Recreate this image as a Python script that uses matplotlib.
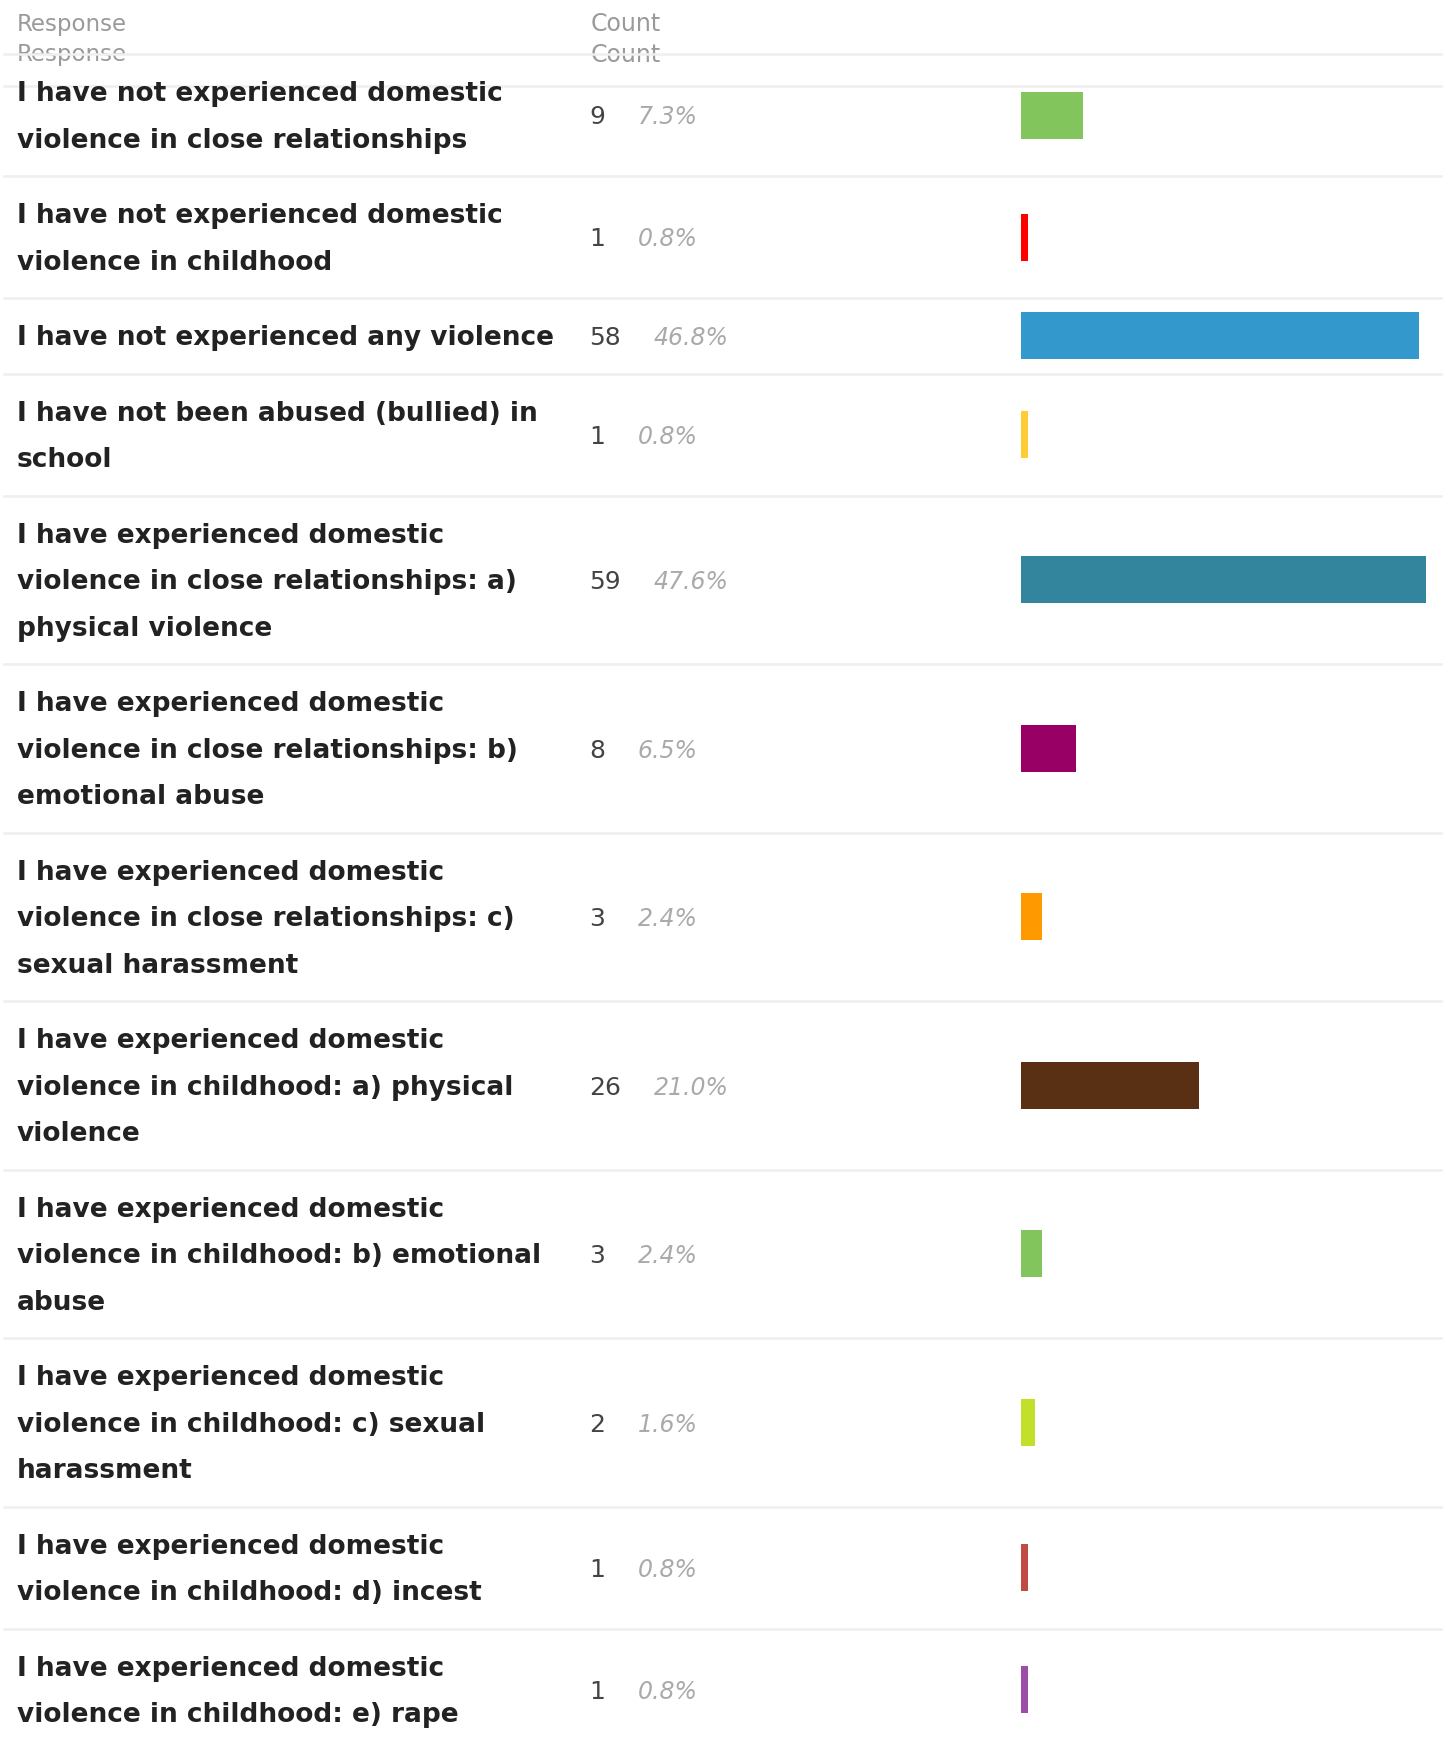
import matplotlib
matplotlib.use("Agg")
import matplotlib.pyplot as plt

# survey answers, one row per response
labels = [
    "I have not experienced domestic\nviolence in close relationships",
    "I have not experienced domestic\nviolence in childhood",
    "I have not experienced any violence",
    "I have not been abused (bullied) in\nschool",
    "I have experienced domestic\nviolence in close relationships: a)\nphysical violence",
    "I have experienced domestic\nviolence in close relationships: b)\nemotional abuse",
    "I have experienced domestic\nviolence in close relationships: c)\nsexual harassment",
    "I have experienced domestic\nviolence in childhood: a) physical\nviolence",
    "I have experienced domestic\nviolence in childhood: b) emotional\nabuse",
    "I have experienced domestic\nviolence in childhood: c) sexual\nharassment",
    "I have experienced domestic\nviolence in childhood: d) incest",
    "I have experienced domestic\nviolence in childhood: e) rape",
]
counts = [9, 1, 58, 1, 59, 8, 3, 26, 3, 2, 1, 1]
percents = ["7.3%", "0.8%", "46.8%", "0.8%", "47.6%", "6.5%", "2.4%",
            "21.0%", "2.4%", "1.6%", "0.8%", "0.8%"]
colors = ["#82c55c", "#ff0000", "#3399cc", "#ffcc33", "#33849d", "#990066",
          "#ff9900", "#5a3014", "#82c55c", "#c2e02a", "#c04b45", "#9c4ea8"]

W, H = 1443, 1740
fig = plt.figure(figsize=(W / 100, H / 100), dpi=100)
ax = fig.add_axes([0, 0, 1, 1])
ax.set_xlim(0, W)
ax.set_ylim(H, 0)
ax.axis("off")

line_col = "#efefef"
pitch = 46.5   # distance between label lines
pad = 29

# header (shown twice, like the sticky table header)
for y in (24, 55):
    ax.text(17, y, "Response", fontsize=16.5, color="#9a9a9a", va="center")
    ax.text(591, y, "Count", fontsize=17, color="#9a9a9a", va="center")
ax.plot([4, W], [87, 87], color=line_col, lw=1.8, zorder=3)

# row layout
tops = []
y = 55
for lab in labels:
    tops.append(y)
    y += pad + pitch * len(lab.split("\n"))
tops.append(y)
centers = [(tops[i] + tops[i + 1]) / 2 for i in range(len(labels))]

for t in tops:
    ax.plot([4, W], [t, t], color=line_col, lw=1.8, zorder=3)

for i, lab in enumerate(labels):
    lines = lab.split("\n")
    n = len(lines)
    for j, ln in enumerate(lines):
        ax.text(17, centers[i] + 1.5 + (j - (n - 1) / 2) * pitch, ln,
                fontsize=19, fontweight="bold", color="#222222",
                va="center")
    ct = ax.text(589, centers[i] + 1.5, str(counts[i]), fontsize=18,
                 color="#444444", va="center")
    ax.annotate(percents[i], xy=(1, 0.5), xycoords=ct, xytext=(23.5, 0),
                textcoords="offset points", fontsize=17, style="italic",
                color="#aaaaaa", va="center")

# bars
bx = fig.add_axes([1021 / W, 0, 405 / W, 1])
bx.set_xlim(0, max(counts))
bx.set_ylim(H, 0)
bx.axis("off")
bx.barh(centers, counts, height=47, color=colors)

fig.savefig("out.png", dpi=100)
